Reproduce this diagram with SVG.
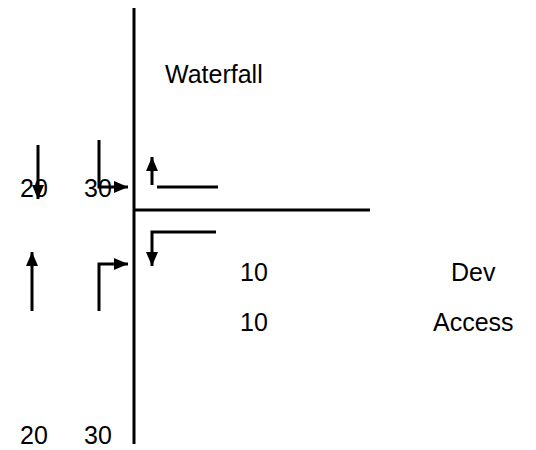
<svg xmlns="http://www.w3.org/2000/svg" width="536" height="450" viewBox="0 0 536 450">
  <style>
    .lbl { font-family: "Liberation Sans", Arial, sans-serif; font-size: 25px; fill: #000; }
    .ln { stroke: #000; stroke-width: 3; fill: none; }
    .axis { stroke: #000; stroke-width: 3; fill: none; }
  </style>
  <defs>
    <marker id="head" viewBox="0 0 14 12" refX="14" refY="6" markerWidth="14" markerHeight="12" markerUnits="userSpaceOnUse" orient="auto">
      <path d="M0,0 L14,6 L0,12 z" fill="#000"/>
    </marker>
  </defs>

  <rect width="536" height="450" fill="#fff"/>

  <!-- connectors: axes, arrows and ledges -->
  <g id="connectors">
    <line class="axis" x1="134" y1="8" x2="134" y2="444"/>
    <line class="ln" x1="134" y1="210" x2="370" y2="210"/>

    <line class="ln" x1="152" y1="185" x2="152" y2="157" marker-end="url(#head)"/>
    <line class="ln" x1="157" y1="187" x2="218" y2="187"/>

    <polyline class="ln" points="216,232 152,232 152,266" marker-end="url(#head)"/>

    <line class="ln" x1="38" y1="145" x2="38" y2="199" marker-end="url(#head)"/>
    <polyline class="ln" points="99,140 99,187 128,187" marker-end="url(#head)"/>

    <line class="ln" x1="32" y1="311" x2="32" y2="252" marker-end="url(#head)"/>
    <polyline class="ln" points="99,311 99,264 128,264" marker-end="url(#head)"/>
  </g>

  <g id="title"><text class="lbl" x="165" y="83">Waterfall</text></g>
  <g id="top-20"><text class="lbl" x="20" y="197">20</text></g>
  <g id="top-30"><text class="lbl" x="84" y="197">30</text></g>
  <g id="dev-10"><text class="lbl" x="240" y="281">10</text></g>
  <g id="dev"><text class="lbl" x="451" y="281">Dev</text></g>
  <g id="access-10"><text class="lbl" x="240" y="331">10</text></g>
  <g id="access"><text class="lbl" x="433" y="331">Access</text></g>
  <g id="bottom-20"><text class="lbl" x="20" y="444">20</text></g>
  <g id="bottom-30"><text class="lbl" x="84" y="444">30</text></g>
</svg>
